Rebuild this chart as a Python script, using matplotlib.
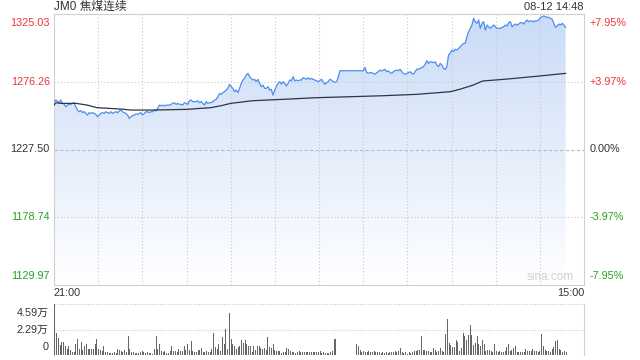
import numpy as np
import matplotlib
matplotlib.use('Agg')
import matplotlib.pyplot as plt
from matplotlib.transforms import blended_transform_factory

plt.rcParams['font.family'] = ['Liberation Sans', 'Noto Sans CJK SC', 'DejaVu Sans']

# 基本信息
title = 'JM0 焦煤连续'
stamp = '08-12 14:48'
pre_close = 1227.50
y_lo, y_hi = 1129.97, 1325.03
price_ticks = [1325.03, 1276.26, 1227.50, 1178.74, 1129.97]
pct_ticks = ['+7.95%', '+3.97%', '0.00%', '-3.97%', '-7.95%']
total_minutes = 345      # 21:00 - 15:00 交易分钟
last_minute = 333        # 14:48

# 分时价格 (约每1.1分钟一个点)
price = [
    1261.9, 1263.1, 1262.4, 1261.2, 1263.1, 1260.7, 1260.2, 1258.3, 1259.5, 1260.0,
    1260.0, 1260.7, 1261.2, 1258.3, 1255.9, 1254.7, 1255.4, 1254.2, 1254.7, 1253.5,
    1252.3, 1254.0, 1253.5, 1254.0, 1253.5, 1252.8, 1251.1, 1252.3, 1253.5, 1254.0,
    1253.5, 1254.7, 1254.0, 1253.5, 1254.7, 1253.5, 1254.2, 1254.7, 1254.0, 1255.2,
    1255.9, 1254.7, 1254.0, 1253.5, 1252.3, 1249.9, 1251.1, 1251.8, 1252.3, 1253.0,
    1252.8, 1253.5, 1254.0, 1252.3, 1253.5, 1254.7, 1254.7, 1254.0, 1254.7, 1254.7,
    1255.9, 1255.2, 1257.1, 1259.5, 1259.0, 1259.5, 1258.8, 1259.5, 1259.3, 1259.5,
    1260.0, 1260.7, 1261.2, 1260.0, 1260.7, 1260.0, 1260.0, 1259.5, 1261.2, 1260.7,
    1260.0, 1262.6, 1263.1, 1261.9, 1261.9, 1261.9, 1262.6, 1261.2, 1261.9, 1260.7,
    1259.5, 1261.9, 1260.7, 1261.2, 1261.2, 1261.9, 1263.1, 1263.6, 1265.5, 1267.9,
    1267.2, 1268.4, 1269.1, 1270.3, 1271.5, 1274.4, 1272.7, 1271.5, 1269.1, 1270.3,
    1268.4, 1271.5, 1275.1, 1277.5, 1278.7, 1281.1, 1282.3, 1279.9, 1278.7, 1277.5,
    1278.0, 1276.3, 1278.0, 1275.1, 1272.7, 1273.9, 1271.5, 1271.5, 1272.7, 1270.3,
    1270.8, 1266.7, 1270.3, 1272.7, 1275.1, 1276.3, 1274.6, 1276.3, 1275.1, 1273.2,
    1275.1, 1277.5, 1277.0, 1279.9, 1277.0, 1277.5, 1277.0, 1277.5, 1277.5, 1279.2,
    1278.7, 1278.0, 1279.2, 1278.0, 1278.7, 1278.0, 1277.5, 1277.0, 1276.3, 1277.0,
    1278.0, 1276.3, 1274.4, 1275.6, 1276.3, 1278.0, 1277.5, 1276.3, 1275.8, 1276.3,
    1279.4, 1284.2, 1284.2, 1284.2, 1284.2, 1284.2, 1284.2, 1284.2, 1284.2, 1284.2,
    1284.2, 1284.2, 1284.2, 1284.2, 1284.2, 1284.2, 1286.6, 1283.0, 1282.3, 1282.8,
    1282.8, 1282.3, 1281.6, 1282.8, 1283.5, 1284.7, 1284.0, 1284.7, 1285.2, 1283.5,
    1284.0, 1283.0, 1282.3, 1283.5, 1284.2, 1284.7, 1284.2, 1285.2, 1283.5, 1282.3,
    1281.6, 1282.3, 1282.8, 1283.5, 1282.3, 1281.8, 1283.5, 1285.2, 1285.4, 1285.7,
    1286.6, 1287.1, 1288.8, 1291.4, 1289.5, 1290.7, 1290.5, 1290.0, 1290.7, 1288.3,
    1287.1, 1289.5, 1288.3, 1285.9, 1285.2, 1287.1, 1295.5, 1296.7, 1299.1, 1297.9,
    1299.6, 1299.1, 1300.3, 1301.5, 1302.7, 1303.9, 1303.9, 1308.7, 1312.3, 1314.7,
    1317.1, 1321.9, 1319.5, 1318.3, 1320.7, 1314.7, 1318.3, 1319.5, 1313.5, 1317.1,
    1315.9, 1314.7, 1315.9, 1317.1, 1315.9, 1314.7, 1314.7, 1314.7, 1315.4, 1315.9,
    1317.1, 1316.4, 1318.8, 1319.5, 1315.9, 1317.1, 1317.8, 1317.1, 1317.8, 1318.8,
    1318.8, 1317.8, 1319.5, 1320.7, 1319.5, 1320.0, 1320.0, 1319.5, 1320.0, 1320.2,
    1320.7, 1322.6, 1323.1, 1323.6, 1323.1, 1322.6, 1322.6, 1321.9, 1321.2, 1318.3,
    1315.4, 1316.4, 1317.8, 1317.1, 1318.3, 1317.1, 1315.4,
]

# 均价线 (分钟, 均价)
avg_minutes = [0, 1.3, 4.6, 14.3, 21.5, 28, 43.6, 50, 65, 86.6, 102, 108.7, 115, 129,
               149, 171, 193, 214, 236, 258, 264, 273, 279, 295, 316, 333]
avg_price = [1259.5, 1261.2, 1260.7, 1260.7, 1259.5, 1257.6, 1256.6, 1255.9, 1255.9,
             1256.4, 1257.6, 1259.0, 1260.7, 1262.6, 1263.6, 1264.8, 1265.5, 1266.2,
             1267.2, 1269.1, 1270.8, 1273.9, 1276.8, 1278.2, 1280.4, 1282.3]

# 成交量 (万手)
volume = [
    4.59, 1.99, 1.53, 0.92, 1.13, 1.13, 0.77, 0.52, 0.77, 0.46, 0.31, 0.24, 0.95, 1.41,
    0.55, 1.13, 0.49, 0.80, 0.98, 0.52, 0.52, 0.52, 0.52, 0.98, 1.41, 0.58, 0.46, 0.37,
    0.77, 0.24, 0.31, 0.15, 0.21, 0.15, 0.31, 0.18, 0.55, 0.43, 0.34, 0.31, 0.46, 0.24,
    1.68, 0.55, 0.24, 0.28, 0.15, 0.15, 0.18, 0.24, 0.40, 0.24, 0.18, 0.31, 0.15, 0.15,
    0.09, 0.55, 1.68, 0.55, 0.95, 0.34, 0.24, 0.40, 0.15, 0.15, 0.40, 0.83, 0.40, 0.37,
    0.24, 0.55, 0.40, 0.34, 0.77, 0.46, 0.98, 0.46, 1.22, 0.34, 0.24, 0.24, 0.46, 0.49,
    0.64, 0.24, 0.24, 0.34, 0.24, 0.24, 0.55, 1.96, 0.70, 0.55, 0.95, 0.40, 1.59, 0.95,
    2.33, 0.55, 3.79, 1.47, 0.98, 0.80, 0.55, 0.70, 0.77, 1.38, 1.10, 1.38, 1.01, 0.77,
    0.80, 0.31, 0.77, 0.46, 0.83, 0.83, 0.64, 0.55, 0.64, 0.46, 1.65, 0.70, 0.61, 0.95,
    0.49, 0.34, 0.40, 0.40, 0.21, 0.31, 0.31, 0.64, 0.52, 0.40, 0.24, 0.31, 0.15, 0.24,
    0.40, 0.24, 0.31, 0.28, 0.24, 0.24,
    0.24, 0.31, 0.31, 0.24, 0.24, 0.24, 0.40, 0.18, 0.24, 0.15, 0.15, 0.18, 0.24, 0.40,
    1.41, 1.41, 0.03, 0.03, 0.03, 0.03, 0.03, 0.03, 0.03, 0.03, 0.03, 0.03, 0.03,
    0.98, 0.77, 0.46, 0.24, 0.40, 0.24, 0.24, 0.40, 0.24, 0.24, 0.40, 0.31, 0.24, 0.24,
    0.15, 0.24, 0.15, 0.24, 0.15, 0.31, 0.24, 0.24, 0.40, 0.24, 0.40, 0.67, 0.24, 0.15,
    0.24, 0.09, 0.24, 0.18, 0.24, 0.40, 0.40, 0.46, 0.46, 1.71, 0.46, 0.46, 0.40, 0.34,
    0.24, 0.24, 0.61, 0.46, 0.31, 0.40, 0.61, 0.34, 0.31, 1.90, 3.24, 1.07, 0.86, 0.70,
    0.70, 1.38, 1.16, 0.40, 0.64, 1.99, 1.68, 1.38, 1.84, 2.69, 1.81, 0.86, 1.07, 1.68,
    1.01, 0.83, 1.32, 1.01, 0.40, 0.46, 0.46, 0.40, 0.31, 0.98, 0.40, 0.24, 0.40, 0.24,
    0.31, 0.40, 0.70, 0.98, 0.40, 0.49, 0.64, 0.77, 0.31, 0.31, 0.24, 0.24, 0.24, 0.55,
    0.40, 0.34, 0.40, 0.55, 0.40, 0.34, 0.24, 0.40, 1.90, 0.77, 0.46, 0.40, 0.40, 0.24,
    0.55, 0.70, 1.25, 1.38, 0.55, 0.46, 0.24, 0.34, 0.24,
]
vol_max = 4.59
vol_ticks = [4.59, 2.29, 0]
vol_labels = ['4.59万', '2.29万', '0']

red, green, dark = '#f03434', '#23a323', '#333333'
label_colors = [red, red, dark, green, green]
grid_c = '#c8c8c8'

fig = plt.figure(figsize=(6.4, 3.6), dpi=100)
ax = fig.add_axes([54 / 640, 1 - 285 / 360, 530 / 640, 271 / 360])
axv = fig.add_axes([54 / 640, 1 - 355 / 360, 530 / 640, 51 / 360])

px = np.linspace(0, last_minute, len(price))

# 渐变填充
poly = ax.fill_between(px, price, y_lo, facecolor='none', edgecolor='none')
grad = np.linspace(0, 1, 256).reshape(-1, 1)
cmap = matplotlib.colors.LinearSegmentedColormap.from_list(
    'g', [(1, 1, 1), (0.79, 0.86, 0.97)])
img = ax.imshow(grad, cmap=cmap, aspect='auto', origin='lower',
                extent=[0, total_minutes, y_lo, y_hi], zorder=1)
img.set_clip_path(poly.get_paths()[0], transform=ax.transData)

# 网格
for i in range(1, 12):
    ax.axvline(i * total_minutes / 12, color=grid_c, lw=0.8, ls=(0, (1, 2)), zorder=2)
for p in [price_ticks[1], price_ticks[3]]:
    ax.axhline(p, color=grid_c, lw=0.8, ls=(0, (1, 2)), zorder=2)
ax.axhline(pre_close, color='#bbbbbb', lw=0.8, ls=(0, (3, 2)), zorder=2)

ax.plot(px, price, color='#4d8ef0', lw=0.9, zorder=4)
ax.plot(avg_minutes, avg_price, color='#2e3440', lw=0.9, zorder=4)

ax.set_xlim(0, total_minutes)
ax.set_ylim(y_lo, y_hi)
ax.set_xticks([])
ax.set_yticks([])
for s in ax.spines.values():
    s.set_color('#d0d0d0')
    s.set_linewidth(0.8)

tr = blended_transform_factory(ax.transAxes, ax.transData)
vas = ['top', 'center', 'center', 'center', 'bottom']
for p, pct, c, va in zip(price_ticks, pct_ticks, label_colors, vas):
    off = {'top': -3, 'center': 0, 'bottom': 3}[va]
    ax.annotate(f'{p:.2f}', (0, p), xycoords=tr, xytext=(-3, off), textcoords='offset points',
                ha='right', va=va, color=c, fontsize=7.8)
    ax.annotate(pct, (1, p), xycoords=tr, xytext=(4, off), textcoords='offset points',
                ha='left', va=va, color=c, fontsize=7.8)

fig.text(54 / 640, 1 - 7 / 360, title, ha='left', va='center', fontsize=8.5, color=dark)
fig.text(584 / 640, 1 - 7 / 360, stamp, ha='right', va='center', fontsize=8, color=dark)
fig.text(54 / 640, 1 - 293 / 360, '21:00', ha='left', va='center', fontsize=7.8, color=dark)
fig.text(584 / 640, 1 - 293 / 360, '15:00', ha='right', va='center', fontsize=7.8, color=dark)
ax.text(0.98, 0.008, 'sina.com', transform=ax.transAxes, ha='right', va='bottom',
        fontsize=8.5, color='#d0d0d0')

# 成交量
vx = np.linspace(0.3, last_minute, len(volume))
axv.vlines(vx, 0, volume, colors='#666666', lw=0.6, antialiased=False, zorder=3)
axv.set_xlim(0, total_minutes)
axv.set_ylim(0, vol_max)
for t in vol_ticks[:2]:
    axv.axhline(t, color=grid_c, lw=0.8, ls=(0, (1, 1.5)), zorder=1)
axv.set_xticks([])
axv.set_yticks([])
for k, s in axv.spines.items():
    s.set_color('#d0d0d0')
    s.set_linewidth(0.8)
axv.spines['top'].set_visible(False)
axv.spines['bottom'].set_visible(False)
trv = blended_transform_factory(axv.transAxes, axv.transData)
for t, lab, va in zip(vol_ticks, vol_labels, ['top', 'center', 'bottom']):
    off = {'top': -3, 'center': 0, 'bottom': 2}[va]
    axv.annotate(lab, (0, t), xycoords=trv, xytext=(-4, off), textcoords='offset points',
                 ha='right', va=va, color=dark, fontsize=7.8)

fig.savefig('out.png', dpi=100)
